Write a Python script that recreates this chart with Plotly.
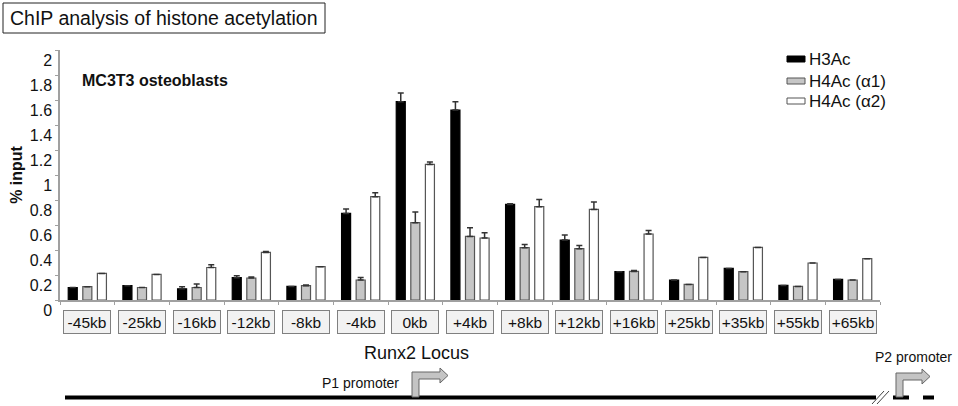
import plotly.graph_objects as go

categories = ["-45kb", "-25kb", "-16kb", "-12kb", "-8kb", "-4kb", "0kb", "+4kb",
              "+8kb", "+12kb", "+16kb", "+25kb", "+35kb", "+55kb", "+65kb"]
series_names = ["H3Ac", "H4Ac (α1)", "H4Ac (α2)"]
h3ac = [0.10, 0.115, 0.09, 0.179, 0.109, 0.693, 1.587, 1.52, 0.765, 0.48, 0.227, 0.16, 0.253, 0.117, 0.165]
h4ac_a1 = [0.107, 0.10, 0.10, 0.176, 0.115, 0.16, 0.619, 0.509, 0.419, 0.411, 0.229, 0.125, 0.227, 0.109, 0.16]
h4ac_a2 = [0.213, 0.205, 0.26, 0.381, 0.267, 0.827, 1.085, 0.496, 0.747, 0.725, 0.528, 0.341, 0.421, 0.296, 0.331]
h3ac_err = [0, 0, 0.017, 0.016, 0, 0.035, 0.07, 0.067, 0.005, 0.04, 0, 0, 0, 0, 0]
h4ac_a1_err = [0, 0, 0.028, 0.008, 0.005, 0.021, 0.085, 0.07, 0.026, 0.026, 0.008, 0, 0, 0, 0]
h4ac_a2_err = [0, 0, 0.023, 0.008, 0, 0.032, 0.019, 0.043, 0.058, 0.059, 0.029, 0, 0, 0, 0]
y_ticks = [0, 0.2, 0.4, 0.6, 0.8, 1, 1.2, 1.4, 1.6, 1.8, 2]
y_tick_text = ["0", "0.2", "0.4", "0.6", "0.8", "1", "1.2", "1.4", "1.6", "1.8", "2"]

FONT = "Liberation Sans, Arial, sans-serif"
W, H = 958, 406
ML, MR, MT, MB = 60, 78, 50, 106
PW, PH = W - ML - MR, H - MT - MB


def px(x):
    return (x - ML) / PW


def py(y):
    return (H - MB - y) / PH


fills = ["#000000", "#c6c6c6", "#ffffff"]
lines = ["#000000", "#555555", "#555555"]
vals = [h3ac, h4ac_a1, h4ac_a2]
errs = [h3ac_err, h4ac_a1_err, h4ac_a2_err]

fig = go.Figure()
for name, v, e, fc, lc in zip(series_names, vals, errs, fills, lines):
    fig.add_trace(go.Bar(
        x=categories, y=v, name=name,
        marker=dict(color=fc, line=dict(color=lc, width=1.2)),
        error_y=dict(type="data", array=e, arrayminus=[0] * len(e), symmetric=False,
                     color="#333333", thickness=1.5, width=3),
        showlegend=False,
    ))

shapes = []
annotations = []

# title box
shapes.append(dict(type="rect", xref="paper", yref="paper", x0=px(3), x1=px(325), y0=py(3), y1=py(33),
                   line=dict(color="#222", width=1), fillcolor="white", layer="below"))
annotations.append(dict(text="ChIP analysis of histone acetylation", xref="paper", yref="paper",
                        x=px(164), y=py(18), showarrow=False, xanchor="center", yanchor="middle",
                        font=dict(family=FONT, size=19.5, color="#111")))
annotations.append(dict(text="<b>MC3T3 osteoblasts</b>", xref="paper", yref="paper",
                        x=px(80), y=py(80), showarrow=False, xanchor="left", yanchor="middle",
                        font=dict(family=FONT, size=16, color="#111")))

# legend
leg_y = [59, 81, 101]
for name, fc, lc, yy in zip(series_names, fills, lines, leg_y):
    shapes.append(dict(type="rect", xref="paper", yref="paper", x0=px(787), x1=px(805),
                       y0=py(yy - 3), y1=py(yy + 3), fillcolor=fc, line=dict(color=lc, width=1)))
    annotations.append(dict(text=name, xref="paper", yref="paper", x=px(807), y=py(yy),
                            showarrow=False, xanchor="left", yanchor="middle",
                            font=dict(family=FONT, size=17, color="#111")))

# boxed category labels
for c in categories:
    annotations.append(dict(text=c, xref="x", yref="paper", x=c, y=py(322), showarrow=False,
                            xanchor="center", yanchor="middle", width=44, height=20,
                            bgcolor="#f2f2f2", bordercolor="#808080", borderwidth=1, borderpad=1,
                            font=dict(family=FONT, size=15.5, color="#111")))

annotations.append(dict(text="Runx2 Locus", xref="paper", yref="paper", x=px(416), y=py(353),
                        showarrow=False, xanchor="center", yanchor="middle",
                        font=dict(family=FONT, size=18, color="#111")))
annotations.append(dict(text="P1 promoter", xref="paper", yref="paper", x=px(360), y=py(383),
                        showarrow=False, xanchor="center", yanchor="middle",
                        font=dict(family=FONT, size=14, color="#111")))
annotations.append(dict(text="P2 promoter", xref="paper", yref="paper", x=px(913), y=py(357),
                        showarrow=False, xanchor="center", yanchor="middle",
                        font=dict(family=FONT, size=14, color="#111")))

# locus line
for x0, x1 in [(65, 876), (893, 909), (923, 934)]:
    shapes.append(dict(type="rect", xref="paper", yref="paper", x0=px(x0), x1=px(x1),
                       y0=py(395.5), y1=py(399.5), fillcolor="black", line=dict(width=0)))
for dx in (0, 5):
    shapes.append(dict(type="line", xref="paper", yref="paper", x0=px(872 + dx), y0=py(404),
                       x1=px(884 + dx), y1=py(391), line=dict(color="#444", width=1)))


def arrow_path(xs, top, arm_end, tip):
    pts = [(xs, 397), (xs, top), (arm_end, top), (arm_end, top - 4), (tip, top + 3.5),
           (arm_end, top + 11), (arm_end, top + 7), (xs + 7, top + 7), (xs + 7, 397)]
    d = "M " + " L ".join(f"{px(a):.5f},{py(b):.5f}" for a, b in pts) + " Z"
    return dict(type="path", xref="paper", yref="paper", path=d, fillcolor="#c4c4c4",
                line=dict(color="#666", width=1))


shapes.append(arrow_path(412, 372, 440, 448))
shapes.append(arrow_path(896, 373, 922, 930))

fig.update_layout(
    width=W, height=H,
    margin=dict(l=ML, r=MR, t=MT, b=MB, autoexpand=False),
    paper_bgcolor="white", plot_bgcolor="white",
    barmode="group", bargap=0.2, bargroupgap=0.38,
    font=dict(family=FONT, color="#111"),
    shapes=shapes, annotations=annotations,
    xaxis=dict(showticklabels=False, showline=True, linecolor="#a0a0a0", linewidth=1.5,
               ticks="outside", tickson="boundaries", ticklen=3, tickcolor="#a0a0a0",
               showgrid=False, zeroline=False, fixedrange=True, automargin=False),
    yaxis=dict(range=[0, 2], tickvals=y_ticks, ticktext=y_tick_text, showline=True,
               linecolor="#a0a0a0", linewidth=1.5, ticks="outside", ticklen=3, tickcolor="#a0a0a0",
               showgrid=False, zeroline=False, ticklabelshift=10, automargin=False,
               tickfont=dict(family=FONT, size=16, color="#111"),
               title=dict(text="<b>% input</b>", font=dict(family=FONT, size=16, color="#111"),
                          standoff=3)),
)

fig.write_html("out.html", config={"displayModeBar": False},
               post_script="document.body.style.margin='0px';document.body.style.overflow='hidden';")
